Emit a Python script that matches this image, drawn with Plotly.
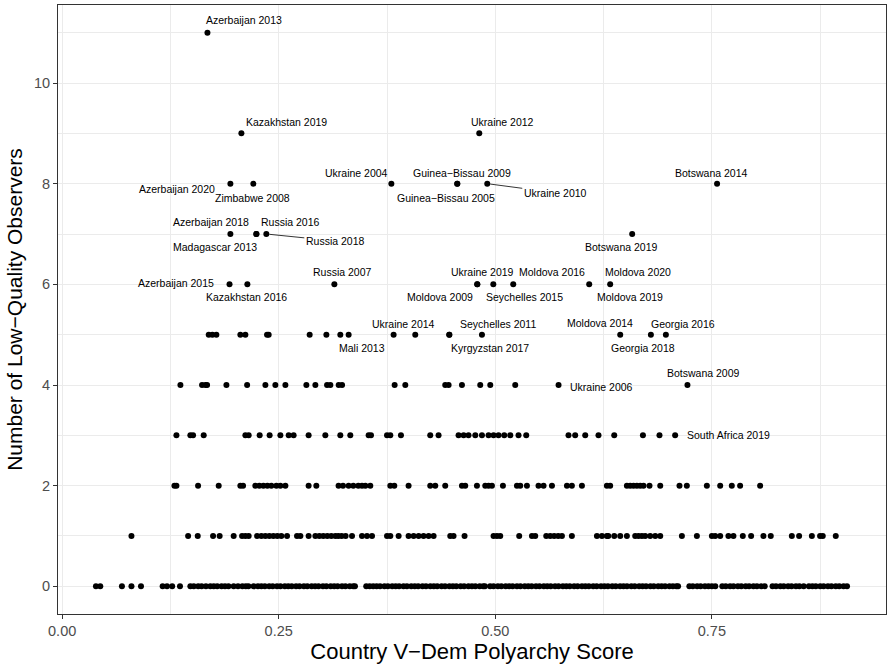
import plotly.graph_objects as go

# ---------------- data ----------------
row0_x = [0.039, 0.044, 0.069, 0.080, 0.091, 0.116, 0.121, 0.127, 0.136,
          0.148, 0.152, 0.157, 0.161, 0.166, 0.171, 0.175, 0.179, 0.184, 0.188, 0.192,
          0.198, 0.203, 0.208, 0.212, 0.215,
          0.221, 0.226, 0.230, 0.234, 0.239, 0.243, 0.248, 0.252, 0.257, 0.261, 0.265, 0.270,
          0.274, 0.279, 0.283, 0.288, 0.292, 0.296, 0.301, 0.305, 0.310, 0.314, 0.318, 0.323,
          0.327, 0.332, 0.336, 0.338,
          0.351, 0.355, 0.359,
          0.363, 0.367, 0.372, 0.376, 0.381, 0.385, 0.389, 0.394, 0.398, 0.403, 0.407, 0.411,
          0.416, 0.420, 0.425, 0.429, 0.433, 0.438, 0.442, 0.447, 0.451, 0.455, 0.460, 0.464,
          0.469, 0.473, 0.477, 0.482, 0.486, 0.488,
          0.494, 0.498, 0.503, 0.507, 0.512, 0.516, 0.520, 0.525, 0.529, 0.534, 0.538, 0.542,
          0.547, 0.551, 0.556, 0.560, 0.564, 0.569, 0.573, 0.578, 0.582, 0.586, 0.591, 0.595,
          0.600, 0.604, 0.608, 0.613, 0.617, 0.622, 0.626, 0.630, 0.635, 0.639, 0.644, 0.648,
          0.652, 0.657, 0.661, 0.666, 0.670, 0.674, 0.679, 0.683, 0.688, 0.692, 0.696, 0.701,
          0.705, 0.709, 0.711,
          0.724, 0.728, 0.733, 0.737, 0.742, 0.746, 0.750, 0.754,
          0.762, 0.766, 0.771, 0.775, 0.780, 0.784, 0.789, 0.793, 0.798, 0.802, 0.807, 0.811,
          0.820, 0.824, 0.829, 0.833, 0.838, 0.842, 0.847, 0.851, 0.856,
          0.862, 0.866, 0.870, 0.875, 0.879, 0.884, 0.888, 0.893, 0.897, 0.902, 0.906]

row1_x = [0.080, 0.1454, 0.1565, 0.1742, 0.1818, 0.198, 0.2077, 0.2115, 0.2153,
          0.225, 0.230, 0.2346, 0.2392, 0.2438, 0.2484, 0.253, 0.2596, 0.2711, 0.275, 0.2845,
          0.2923, 0.2969, 0.3015, 0.3061, 0.3107, 0.3154, 0.3188, 0.3226, 0.3272, 0.3346,
          0.3461, 0.3519, 0.3577, 0.375, 0.3788, 0.3884,
          0.3999, 0.4057, 0.4115, 0.4172, 0.423, 0.4288, 0.448, 0.4518, 0.4645,
          0.498, 0.5019, 0.5057, 0.5276, 0.5423, 0.5461,
          0.5588, 0.5634, 0.568, 0.5726, 0.5769, 0.5884, 0.6173, 0.6231, 0.6288,
          0.6304, 0.6373, 0.6442, 0.6519, 0.6615, 0.6653, 0.6692, 0.673, 0.6788, 0.6846, 0.6904,
          0.7154, 0.7327, 0.75, 0.7538, 0.7596, 0.7691, 0.7749, 0.7857, 0.7953,
          0.8095, 0.818, 0.8423, 0.8507, 0.8654, 0.8749, 0.878, 0.893]

row2_x = [0.1296, 0.1319, 0.1569, 0.1807, 0.2057, 0.2088, 0.223, 0.2276, 0.2323, 0.2369,
          0.2415, 0.2473, 0.2519, 0.2577, 0.2845, 0.2934, 0.3191, 0.3242, 0.3307, 0.3361,
          0.3419, 0.3461, 0.35, 0.3557, 0.3788, 0.3834, 0.3999, 0.4249, 0.4307, 0.4422,
          0.4615, 0.4653, 0.4788, 0.4884, 0.4922, 0.4961, 0.5088, 0.525, 0.5288, 0.5365,
          0.5499, 0.5557, 0.5654, 0.5827, 0.5884, 0.600, 0.6288, 0.6326, 0.6519, 0.6557,
          0.6595, 0.6634, 0.6673, 0.6711, 0.678, 0.6904, 0.7126, 0.7211, 0.7442, 0.7596,
          0.773, 0.7826, 0.8057]

row3_x = [0.1319, 0.148, 0.1511, 0.1634, 0.2115, 0.2153, 0.228, 0.2395, 0.2519, 0.2615,
          0.2672, 0.2845, 0.3038, 0.3211, 0.3326, 0.3538, 0.3565, 0.375, 0.3788, 0.3911,
          0.4249, 0.4345, 0.4576, 0.4634, 0.4691, 0.4769, 0.4846, 0.4922, 0.498, 0.5037,
          0.5103, 0.5173, 0.5268, 0.5357, 0.5845, 0.5922, 0.6038, 0.6191, 0.6373, 0.6704,
          0.6895]

row4_x = [0.1365, 0.1615, 0.1654, 0.1673, 0.1896, 0.2135, 0.2346, 0.2461, 0.2577, 0.2819,
          0.2923, 0.3058, 0.3096, 0.3192, 0.3231, 0.3838, 0.3961, 0.4422, 0.4461, 0.4615,
          0.4826, 0.4942, 0.523]

row5_x = [0.1692, 0.1734, 0.178, 0.2057, 0.2115, 0.2365, 0.2384, 0.2857, 0.305, 0.3211,
          0.4076, 0.4469]

# labelled country-years: (label, polyarchy score, number of low-quality observers)
labelled = [
    ("Azerbaijan 2013", 0.1677, 11),
    ("Kazakhstan 2019", 0.2069, 9),
    ("Ukraine 2012", 0.4815, 9),
    ("Azerbaijan 2020", 0.1942, 8),
    ("Zimbabwe 2008", 0.2207, 8),
    ("Ukraine 2004", 0.3800, 8),
    ("Guinea−Bissau 2009", 0.4561, 8),
    ("Guinea−Bissau 2005", 0.4561, 8),
    ("Ukraine 2010", 0.4907, 8),
    ("Botswana 2014", 0.7560, 8),
    ("Azerbaijan 2018", 0.1942, 7),
    ("Russia 2016", 0.2242, 7),
    ("Madagascar 2013", 0.2242, 7),
    ("Russia 2018", 0.2357, 7),
    ("Botswana 2019", 0.6580, 7),
    ("Azerbaijan 2015", 0.1932, 6),
    ("Kazakhstan 2016", 0.2138, 6),
    ("Russia 2007", 0.3142, 6),
    ("Ukraine 2019", 0.4792, 6),
    ("Moldova 2009", 0.4792, 6),
    ("Seychelles 2015", 0.4977, 6),
    ("Moldova 2016", 0.5207, 6),
    ("Moldova 2019", 0.6084, 6),
    ("Moldova 2020", 0.6326, 6),
    ("Mali 2013", 0.3307, 5),
    ("Ukraine 2014", 0.3826, 5),
    ("Kyrgyzstan 2017", 0.4469, 5),
    ("Seychelles 2011", 0.4846, 5),
    ("Moldova 2014", 0.6442, 5),
    ("Georgia 2018", 0.6796, 5),
    ("Georgia 2016", 0.6969, 5),
    ("Ukraine 2006", 0.5730, 4),
    ("Botswana 2009", 0.7218, 4),
    ("South Africa 2019", 0.7076, 3),
]

x_ticks = [0.00, 0.25, 0.50, 0.75]
x_tick_labels = ["0.00", "0.25", "0.50", "0.75"]
y_ticks = [0, 2, 4, 6, 8, 10]
y_tick_labels = ["0", "2", "4", "6", "8", "10"]

# ---------------- label placement (pixel offsets from point: dx, dy(up), anchor, leader) ----------------
label_pos = {
    "Azerbaijan 2013": (37, 13, "center", False),
    "Kazakhstan 2019": (45, 11, "center", False),
    "Ukraine 2012": (23, 11, "center", False),
    "Azerbaijan 2020": (-53, -5, "center", False),
    "Zimbabwe 2008": (-1, -14, "center", False),
    "Ukraine 2004": (-35, 11, "center", False),
    "Guinea−Bissau 2009": (5, 11, "center", False),
    "Guinea−Bissau 2005": (-11, -14, "center", False),
    "Ukraine 2010": (68, -9, "center", True),
    "Botswana 2014": (-6, 11, "center", False),
    "Azerbaijan 2018": (-19, 12, "center", False),
    "Russia 2016": (34, 12, "center", False),
    "Madagascar 2013": (-41, -13, "center", False),
    "Russia 2018": (69, -7, "center", True),
    "Botswana 2019": (-11, -13, "center", False),
    "Azerbaijan 2015": (-54, 1, "center", False),
    "Kazakhstan 2016": (-1, -13, "center", False),
    "Russia 2007": (8, 12, "center", False),
    "Ukraine 2019": (5, 12, "center", False),
    "Moldova 2009": (-37, -13, "center", False),
    "Seychelles 2015": (31, -13, "center", False),
    "Moldova 2016": (39, 12, "center", False),
    "Moldova 2019": (41, -13, "center", False),
    "Moldova 2020": (28, 12, "center", False),
    "Mali 2013": (13, -13, "center", False),
    "Ukraine 2014": (10, 11, "center", False),
    "Kyrgyzstan 2017": (41, -13, "center", False),
    "Seychelles 2011": (16, 11, "center", False),
    "Moldova 2014": (-20, 12, "center", False),
    "Georgia 2018": (-8, -13, "center", False),
    "Georgia 2016": (17, 11, "center", False),
    "Ukraine 2006": (9, -2, "left", False),
    "Botswana 2009": (16, 12, "center", False),
    "South Africa 2019": (10, 0, "left", False),
}

xs, ys = [], []
for yv, row in zip([0, 1, 2, 3, 4, 5], [row0_x, row1_x, row2_x, row3_x, row4_x, row5_x]):
    xs += row
    ys += [yv] * len(row)
for name, xv, yv in labelled:
    xs.append(xv)
    ys.append(yv)

FONT = "Liberation Sans, Arial, sans-serif"
LABEL_SIZE = 10.5

fig = go.Figure()
fig.add_trace(go.Scatter(x=xs, y=ys, mode="markers",
                         marker=dict(color="black", size=6, line=dict(width=0)),
                         hoverinfo="x+y", showlegend=False))

annotations = []
for name, xv, yv in labelled:
    dx, dy, anchor, leader = label_pos[name]
    if leader:
        annotations.append(dict(x=xv, y=yv, xref="x", yref="y", text=name,
                                showarrow=True, arrowhead=0, arrowwidth=0.8, arrowcolor="black",
                                ax=dx, ay=-dy, standoff=3, startstandoff=0,
                                font=dict(family=FONT, size=LABEL_SIZE, color="black")))
    else:
        annotations.append(dict(x=xv, y=yv, xref="x", yref="y", text=name,
                                showarrow=False, xanchor=anchor, yanchor="middle",
                                xshift=dx, yshift=dy,
                                font=dict(family=FONT, size=LABEL_SIZE, color="black")))

grid = "#EBEBEB"
fig.update_layout(
    width=888, height=665,
    margin=dict(l=58, r=2, t=5, b=51, pad=0),
    paper_bgcolor="white", plot_bgcolor="white",
    font=dict(family=FONT),
    annotations=annotations,
    xaxis=dict(range=[-0.0048, 0.951], tickvals=x_ticks, ticktext=x_tick_labels,
               showgrid=True, gridcolor=grid, gridwidth=1, zeroline=False,
               showline=True, linecolor="#333333", linewidth=1, mirror=True,
               ticks="outside", ticklen=4, tickcolor="#333333", tickwidth=1,
               tickfont=dict(family=FONT, size=14.5, color="#4D4D4D"),
               minor=dict(tick0=0.125, dtick=0.25, showgrid=True, gridcolor=grid, gridwidth=0.5),
               title=dict(text="Country V−Dem Polyarchy Score", standoff=4,
                          font=dict(family=FONT, size=22, color="black"))),
    yaxis=dict(range=[-0.55, 11.55], tickvals=y_ticks, ticktext=y_tick_labels,
               showgrid=True, gridcolor=grid, gridwidth=1, zeroline=False,
               showline=True, linecolor="#333333", linewidth=1, mirror=True,
               ticks="outside", ticklen=4, tickcolor="#333333", tickwidth=1,
               tickfont=dict(family=FONT, size=14.5, color="#4D4D4D"),
               minor=dict(tick0=1, dtick=2, showgrid=True, gridcolor=grid, gridwidth=0.5),
               title=dict(text="Number of Low−Quality Observers", standoff=5,
                          font=dict(family=FONT, size=21, color="black"))),
)

fig.write_html("out.html", config={"displayModeBar": False},
               post_script="document.body.style.margin='0';document.body.style.padding='0';")
